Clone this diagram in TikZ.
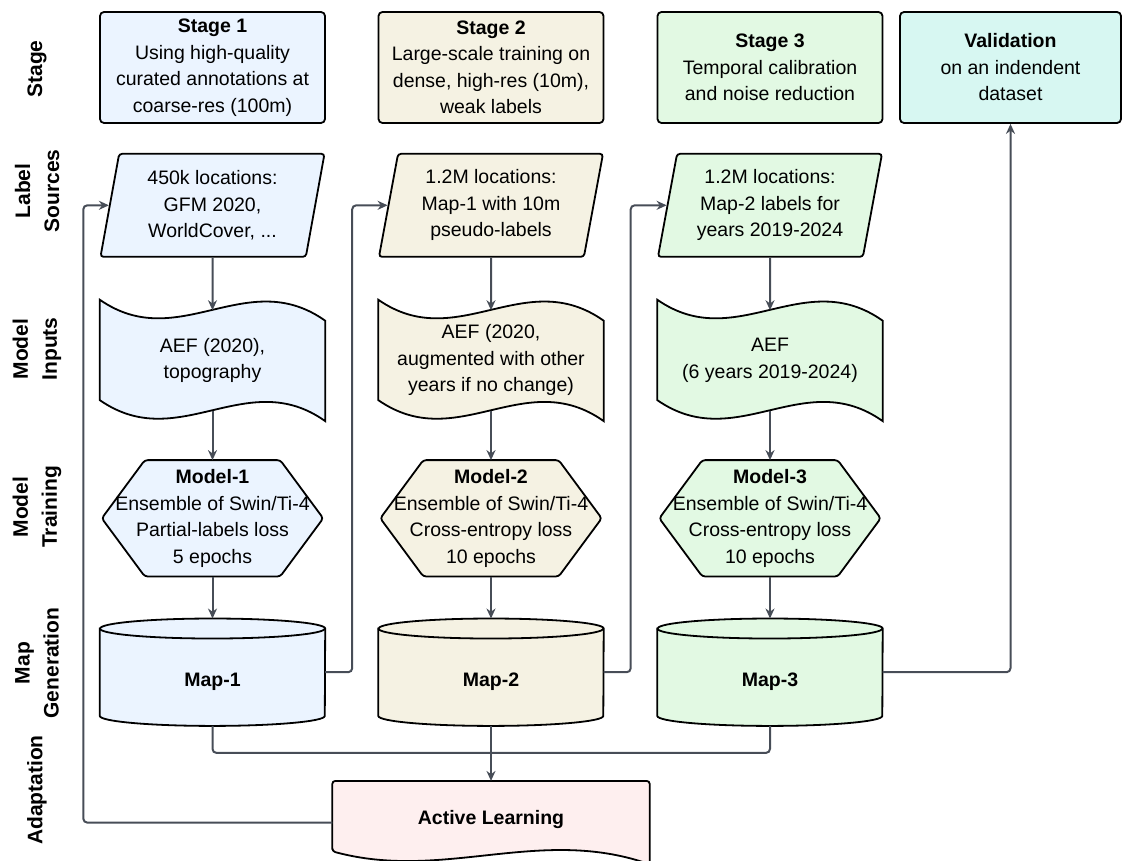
\documentclass[tikz,border=0pt]{standalone}
\usepackage{fontspec}
\setmainfont{Liberation Sans}
\usetikzlibrary{positioning,shapes.geometric,arrows.meta,calc,backgrounds}

\definecolor{stageblue}{HTML}{EBF4FF}
\definecolor{stagebeige}{HTML}{F5F2E3}
\definecolor{stagegreen}{HTML}{E2F9E3}
\definecolor{stagecyan}{HTML}{D7F7F2}
\definecolor{adaptpink}{HTML}{FEEFEF}
\definecolor{linkgray}{HTML}{474D57}

% wavy input sheet drawn round a plain node
\newcommand{\tapeshape}[2]{%
	\draw[shapeline, fill=#2] (#1.north west)
		.. controls ($(#1.north west)!0.35!(#1.north east)+(0,55)$) and ($(#1.north west)!0.65!(#1.north east)+(0,-35)$) .. ($(#1.north east)+(0,21)$)
		-- (#1.south east)
		.. controls ($(#1.south west)!0.65!(#1.south east)+(0,-56)$) and ($(#1.south west)!0.35!(#1.south east)+(0,34)$) .. ($(#1.south west)+(0,-21)$)
		-- cycle;
	\coordinate (#1-top) at ($(#1.north)+(0,10.5)$);
	\coordinate (#1-bot) at ($(#1.south)+(0,-10.5)$);
}
% hexagon for the training step
\newcommand{\hexshape}[2]{%
	\draw[shapeline, fill=#2, rounded corners=3pt] (#1.west) -- ($(#1.north west)+(43,0)$) -- ($(#1.north east)+(-43,0)$)
		-- (#1.east) -- ($(#1.south east)+(-43,0)$) -- ($(#1.south west)+(43,0)$) -- cycle;
}
% cylinder for the maps
\newcommand{\dbshape}[2]{%
	\draw[shapeline, fill=#2] ($(#1.north west)+(0,10)$) -- ($(#1.south west)+(0,-10)$)
		arc[start angle=180, end angle=360, x radius=112.5pt, y radius=10pt]
		-- ($(#1.north east)+(0,10)$)
		arc[start angle=0, end angle=180, x radius=112.5pt, y radius=10pt] -- cycle;
	\draw[shapeline] ($(#1.north west)+(0,10)$) arc[start angle=180, end angle=360, x radius=112.5pt, y radius=10pt];
}

\begin{document}
\begin{tikzpicture}[x=1pt, y=-1pt,
	font=\fontsize{19.5}{26.5}\selectfont,
	shapeline/.style={draw=black, line width=1.8pt},
	rowlabel/.style={rotate=90, align=center, font=\fontsize{21}{29}\selectfont\bfseries},
	stagebox/.style={shapeline, rounded corners=4pt, minimum width=225pt, minimum height=111pt, inner sep=0pt, align=center},
	sourcebox/.style={shapeline, trapezium, trapezium left angle=75, trapezium right angle=105, trapezium stretches body, rounded corners=3pt, minimum width=224pt, minimum height=103pt, inner sep=0pt, align=center},
	tapebox/.style={minimum width=225pt, minimum height=121pt, inner sep=0pt, align=center},
	modelbox/.style={minimum width=221pt, minimum height=116pt, inner sep=0pt, align=center},
	mapdb/.style={minimum width=225pt, minimum height=107pt, inner sep=0pt, text height=28pt, text depth=0pt},
	adaptbox/.style={minimum width=317pt, minimum height=83pt, inner sep=0pt, text height=14pt, text depth=10pt},
	link/.style={draw=linkgray, line width=2pt, rounded corners=4pt},
	linkarrow/.style={link, -{Stealth[length=10pt, width=9pt]}}
	]
	\useasboundingbox (0,0) rectangle (1122,861);

	% row labels
	\node[rowlabel] (lstage) at (37,69) {Stage};
	\node[rowlabel] (lsrc) at (37,191) {Label\\Sources};
	\node[rowlabel] (linp) at (37,349) {Model\\Inputs};
	\node[rowlabel] (ltrain) at (37,507) {Model\\Training};
	\node[rowlabel] (lmap) at (37,663) {Map\\Generation};
	\node[rowlabel] (ladapt) at (37,790) {Adaptation};

	% stages
	\node[stagebox, fill=stageblue] (st1) at (212.5,67.5) {\textbf{Stage 1}\\Using high-quality\\curated annotations at\\coarse-res (100m)};
	\node[stagebox, fill=stagebeige] (st2) at (491,67.5) {\textbf{Stage 2}\\Large-scale training on\\dense, high-res (10m),\\weak labels};
	\node[stagebox, fill=stagegreen] (st3) at (770,67.5) {\textbf{Stage 3}\\Temporal calibration\\and noise reduction};
	\node[stagebox, fill=stagecyan, minimum width=221pt] (val) at (1010.5,67.5) {\textbf{Validation}\\on an indendent\\dataset};

	% label sources
	\node[sourcebox, fill=stageblue, below=29pt of st1] (src1) {450k locations:\\GFM 2020,\\WorldCover, ...};
	\node[sourcebox, fill=stagebeige, below=29pt of st2] (src2) {1.2M locations:\\Map-1 with 10m\\pseudo-labels};
	\node[sourcebox, fill=stagegreen, below=29pt of st3] (src3) {1.2M locations:\\Map-2 labels for\\years 2019-2024};

	% model inputs
	\node[tapebox, below=42pt of src1] (in1) {AEF (2020),\\topography};
	\node[tapebox, below=42pt of src2] (in2) {AEF (2020,\\augmented with other\\years if no change)};
	\node[tapebox, below=42pt of src3] (in3) {AEF\\(6 years 2019-2024)};

	% model training
	\node[modelbox, below=39pt of in1] (mod1) {\textbf{Model-1}\\Ensemble of Swin/Ti-4\\Partial-labels loss\\5 epochs};
	\node[modelbox, below=39pt of in2] (mod2) {\textbf{Model-2}\\Ensemble of Swin/Ti-4\\Cross-entropy loss\\10 epochs};
	\node[modelbox, below=39pt of in3] (mod3) {\textbf{Model-3}\\Ensemble of Swin/Ti-4\\Cross-entropy loss\\10 epochs};

	% map generation
	\node[mapdb, below=42pt of mod1] (map1) {\textbf{Map-1}};
	\node[mapdb, below=42pt of mod2] (map2) {\textbf{Map-2}};
	\node[mapdb, below=42pt of mod3] (map3) {\textbf{Map-3}};

	% adaptation
	\node[adaptbox, below=55pt of map2] (al) {\textbf{Active Learning}};

	\begin{scope}[on background layer]
		\tapeshape{in1}{stageblue}
		\tapeshape{in2}{stagebeige}
		\tapeshape{in3}{stagegreen}
		\hexshape{mod1}{stageblue}
		\hexshape{mod2}{stagebeige}
		\hexshape{mod3}{stagegreen}
		\dbshape{map1}{stageblue}
		\dbshape{map2}{stagebeige}
		\dbshape{map3}{stagegreen}
		\draw[shapeline, fill=adaptpink, rounded corners=3pt] ($(al.south west)+(0,-13)$) -- (al.north west) -- (al.north east) -- (al.south east)
			.. controls ($(al.south west)!0.65!(al.south east)+(0,-38)$) and ($(al.south west)!0.35!(al.south east)+(0,17)$) .. ($(al.south west)+(0,-13)$)
			-- cycle;
	\end{scope}

	% column flow
	\draw[linkarrow] (src1) -- (in1-top);
	\draw[linkarrow] (src2) -- (in2-top);
	\draw[linkarrow] (src3) -- (in3-top);
	\draw[linkarrow] (in1-bot) -- (mod1.north);
	\draw[linkarrow] (in2-bot) -- (mod2.north);
	\draw[linkarrow] (in3-bot) -- (mod3.north);
	\draw[linkarrow] (mod1.south) -- (map1.north);
	\draw[linkarrow] (mod2.south) -- (map2.north);
	\draw[linkarrow] (mod3.south) -- (map3.north);

	% feedback between stages
	\draw[linkarrow] (map1.east) -- ++(27,0) |- (src2.west);
	\draw[linkarrow] (map2.east) -- ++(27,0) |- (src3.west);
	\draw[linkarrow] (map3.east) -| (val.south);
	\draw[link] (map1.south) -- ++(0,27) -| (map3.south);
	\draw[linkarrow] (map2.south) -- (al.north);
	\draw[linkarrow] (al.west) -- ++(-249,0) |- (src1.west);
\end{tikzpicture}
\end{document}
